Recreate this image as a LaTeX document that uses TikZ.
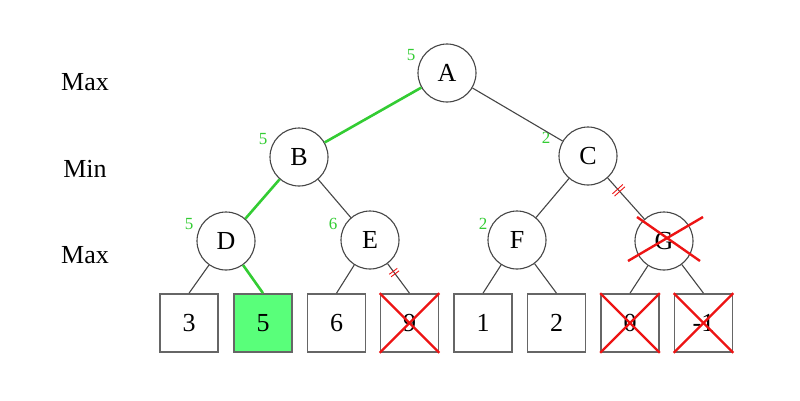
\documentclass[tikz,border=0pt]{standalone}
\usepackage{fontspec}
\setmainfont{Liberation Serif}
\usepackage{pgf,tikz}
\usetikzlibrary{arrows}
\definecolor{qqccqq}{rgb}{0.2,0.8,0.2}
\definecolor{uququq}{rgb}{0.27,0.27,0.27}
\definecolor{wvwvwv}{rgb}{0.4,0.4,0.4}
\definecolor{ffqqqq}{rgb}{0.93,0.08,0.08}
\definecolor{ttffww}{rgb}{0.35,1.,0.48}
\newcommand{\cutbars}[1]{\rule{0.9pt}{#1}\hspace{2.2pt}\rule{0.9pt}{#1}}
\tikzset{
  nd/.style={circle,draw=uququq,line width=1.1pt,minimum size=58pt,inner sep=0pt,font=\fontsize{26}{26}\selectfont},
  lf/.style={rectangle,draw=wvwvwv,line width=1.6pt,minimum size=58pt,inner sep=0pt,font=\fontsize{26}{26}\selectfont},
  val/.style={text=qqccqq,inner sep=0pt,font=\fontsize{17}{17}\selectfont},
  lvl/.style={inner sep=0pt,font=\fontsize{26}{26}\selectfont},
  ed/.style={color=uququq,line width=1.1pt},
  best/.style={color=qqccqq,line width=2.6pt},
  cut/.style={color=ffqqqq,line width=2.4pt},
  cutmark/.style={sloped,text=ffqqqq,inner sep=0pt}
}

\begin{document}
\begin{tikzpicture}[x=1pt,y=1pt]
			\useasboundingbox (0,0) rectangle (800,400);
			\node[lvl] (max1) at (85,318) {Max};
			\node[lvl] (min1) at (85,231) {Min};
			\node[lvl] (max2) at (85,145) {Max};
			\node[nd] (A) at (447,327) {A};
			\node[nd] (B) at (299,243) {B};
			\node[nd] (C) at (588,244) {C};
			\node[nd] (D) at (226,159) {D};
			\node[nd] (E) at (370,160) {E};
			\node[nd] (F) at (517,160) {F};
			\node[nd] (G) at (664,159) {G};
			\node[lf] (l1) at (189,77) {3};
			\node[lf,fill=ttffww] (l2) at (263,77) {5};
			\node[lf] (l3) at (336.5,77) {6};
			\node[lf] (l4) at (409.5,77) {9};
			\node[lf] (l5) at (483,77) {1};
			\node[lf] (l6) at (556.5,77) {2};
			\node[lf] (l7) at (630,77) {0};
			\node[lf] (l8) at (703.5,77) {-1};
			\node[val] (vA) at ([shift={(-36,18)}]A.center) {5};
			\node[val] (vB) at ([shift={(-36,18)}]B.center) {5};
			\node[val] (vC) at ([shift={(-42,18)}]C.center) {2};
			\node[val] (vD) at ([shift={(-37,17)}]D.center) {5};
			\node[val] (vE) at ([shift={(-37,16)}]E.center) {6};
			\node[val] (vF) at ([shift={(-34,16)}]F.center) {2};
			\draw [best] (A) -- (B);
			\draw [ed] (A) -- (C);
			\draw [best] (B) -- (D);
			\draw [ed] (B) -- (E);
			\draw [ed] (C) -- (F);
			\draw [ed] (C) -- (G) node[cutmark,pos=0.3] {\cutbars{14pt}};
			\draw [ed] (D) -- (l1.north);
			\draw [best] (D) -- (l2.north);
			\draw [ed] (E) -- (l3.north);
			\draw [ed] (E) -- (l4.north) node[cutmark,pos=0.3] {\cutbars{10pt}};
			\draw [ed] (F) -- (l5.north);
			\draw [ed] (F) -- (l6.north);
			\draw [ed] (G) -- (l7.north);
			\draw [ed] (G) -- (l8.north);
			\draw [cut] (l4.north west) -- (l4.south east);
			\draw [cut] (l4.south west) -- (l4.north east);
			\draw [cut] (l7.north west) -- (l7.south east);
			\draw [cut] (l7.south west) -- (l7.north east);
			\draw [cut] (l8.north west) -- (l8.south east);
			\draw [cut] (l8.south west) -- (l8.north east);
			\draw [cut] ([shift={(-27,24)}]G.center) -- ([shift={(36,-20)}]G.center);
			\draw [cut] ([shift={(39,24)}]G.center) -- ([shift={(-36,-20)}]G.center);
\end{tikzpicture}
\end{document}
